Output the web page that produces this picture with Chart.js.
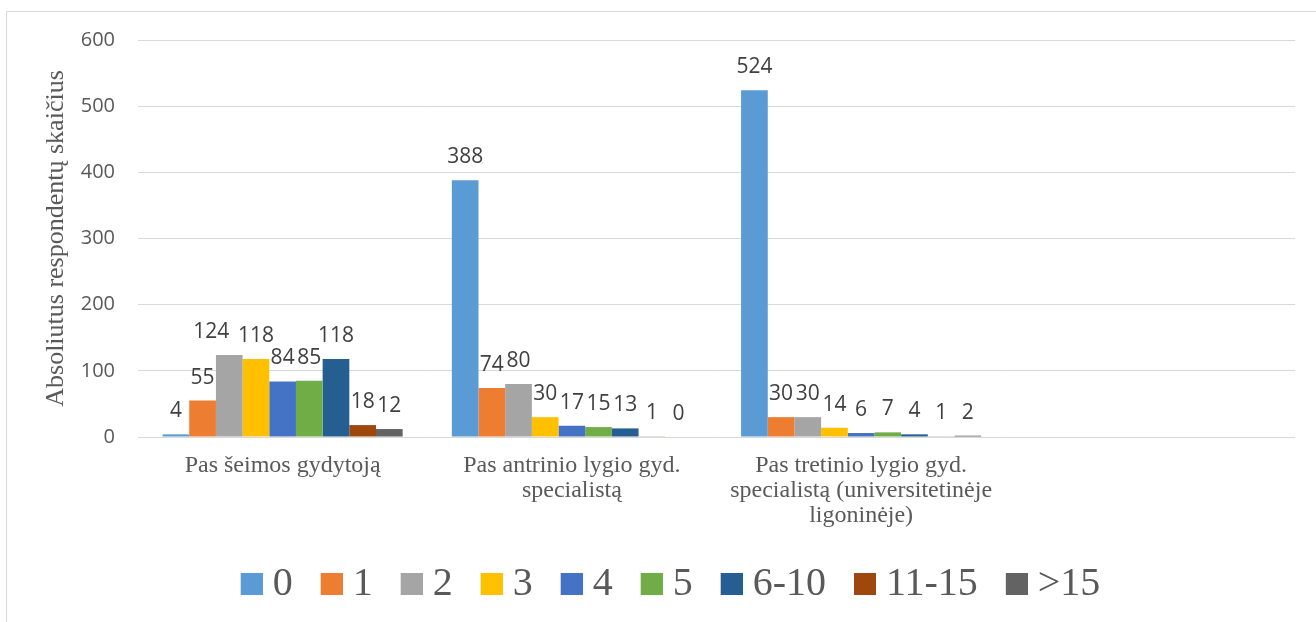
<!DOCTYPE html>
<html lang="lt">
<head>
<meta charset="UTF-8">
<title>Absoliutus respondentų skaičius</title>
<script src="https://cdn.jsdelivr.net/npm/chart.js"></script>
<style>
    body {
        margin: 0;
        background: #fff;
        overflow: hidden;
    }
    .frame {
        position: absolute;
        left: 6px;
        top: 11px;
        width: 1400px;
        height: 700px;
        border: 1px solid #d9d9d9;
    }
    .wrap {
        position: absolute;
        left: 0;
        top: 0;
        width: 1316px;
        height: 622px;
    }
</style>
</head>
<body>
<div class="frame"></div>
<div class="wrap"><canvas id="chart"></canvas></div>
<script>
// kategorijos (4-a tuščia, kaip originale)
const categories = [
    'Pas šeimos gydytoją',
    ['Pas antrinio lygio gyd.', 'specialistą'],
    ['Pas tretinio lygio gyd.', 'specialistą (universitetinėje', 'ligoninėje)'],
    ''
];

// apsilankymų skaičius per metus
const seriesNames = ['0', '1', '2', '3', '4', '5', '6-10', '11-15', '>15'];
const visits0 = [4, 388, 524, null];
const visits1 = [55, 74, 30, null];
const visits2 = [124, 80, 30, null];
const visits3 = [118, 30, 14, null];
const visits4 = [84, 17, 6, null];
const visits5 = [85, 15, 7, null];
const visits6to10 = [118, 13, 4, null];
const visits11to15 = [18, 1, 1, null];
const visitsOver15 = [12, 0, 2, null];

const yTicks = [0, 100, 200, 300, 400, 500, 600];

const colors = ['#5b9bd5', '#ed7d31', '#a5a5a5', '#ffc000', '#4472c4', '#70ad47', '#255e91', '#9e480e', '#636363'];
const seriesData = [visits0, visits1, visits2, visits3, visits4, visits5, visits6to10, visits11to15, visitsOver15];

// kvadratėlis legendai (kairėje skaidri dalis, kad tarpas iki teksto būtų mažesnis)
function swatch(color) {
    const c = document.createElement('canvas');
    c.width = 32;
    c.height = 22;
    const g = c.getContext('2d');
    g.fillStyle = color;
    g.fillRect(10, 0, 22, 22);
    return c;
}

// reikšmės virš stulpelių; "124" pastumta kairėn, kad nesusilietų su "118"
const labelShift = { '2:0': -18 };

const valueLabels = {
    id: 'valueLabels',
    afterDatasetsDraw(chart) {
        const ctx = chart.ctx;
        ctx.save();
        ctx.font = '21px "Open Sans", sans-serif';
        ctx.fillStyle = '#404040';
        ctx.textAlign = 'center';
        ctx.textBaseline = 'alphabetic';
        chart.data.datasets.forEach((ds, i) => {
            chart.getDatasetMeta(i).data.forEach((bar, j) => {
                const v = ds.data[j];
                if (v === null) return;
                const dx = labelShift[i + ':' + j] || 0;
                ctx.fillText(String(v), bar.x + dx, bar.y - 17);
            });
        });
        ctx.restore();
    }
};

new Chart(document.getElementById('chart'), {
    type: 'bar',
    data: {
        labels: categories,
        datasets: seriesNames.map((name, i) => ({
            label: name,
            data: seriesData[i],
            backgroundColor: colors[i],
            borderWidth: 0,
            barPercentage: 1,
            categoryPercentage: 0.83
        }))
    },
    options: {
        responsive: true,
        maintainAspectRatio: false,
        animation: false,
        layout: { padding: { top: 40, right: 21, bottom: 8, left: 46 } },
        scales: {
            x: {
                grid: { display: false, drawTicks: false },
                border: { display: false },
                ticks: {
                    color: '#595959',
                    padding: 16,
                    maxRotation: 0,
                    autoSkip: false,
                    font: { family: '"Liberation Serif", "Times New Roman", serif', size: 24, lineHeight: 1.04 }
                },
                afterFit(scale) { scale.height = 99; }
            },
            y: {
                min: 0,
                max: 600,
                afterBuildTicks(scale) { scale.ticks = yTicks.map(v => ({ value: v })); },
                grid: { color: '#d9d9d9', lineWidth: 1, drawTicks: false },
                border: { display: false },
                ticks: {
                    color: '#595959',
                    padding: 23,
                    font: { family: '"Open Sans", sans-serif', size: 20 }
                },
                title: {
                    display: true,
                    text: 'Absoliutus respondentų skaičius',
                    color: '#595959',
                    padding: { top: -5, bottom: 0 },
                    font: { family: '"Liberation Serif", "Times New Roman", serif', size: 26 }
                },
                afterFit(scale) { scale.width = 92; }
            }
        },
        plugins: {
            legend: {
                position: 'bottom',
                labels: {
                    usePointStyle: true,
                    pointStyleWidth: 12,
                    boxHeight: 22,
                    padding: 28,
                    color: '#595959',
                    font: { family: '"Liberation Serif", "Times New Roman", serif', size: 40 },
                    generateLabels: chart => Chart.defaults.plugins.legend.labels.generateLabels(chart)
                        .map(item => Object.assign(item, { pointStyle: swatch(colors[item.datasetIndex]) }))
                }
            },
            tooltip: { enabled: false }
        }
    },
    plugins: [valueLabels]
});
</script>
</body>
</html>
